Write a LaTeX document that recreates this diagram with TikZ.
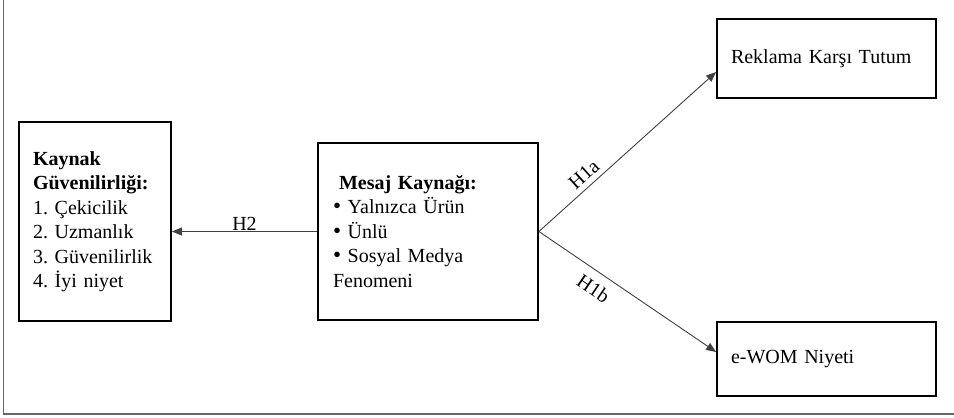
\documentclass[tikz,border=0pt]{standalone}
\usepackage{fontspec}
\setmainfont{Liberation Serif}
\usetikzlibrary{arrows.meta}
\newcommand{\bul}{{\fontsize{23}{24}\selectfont •} }
\begin{document}
\frenchspacing
\begin{tikzpicture}[x=1pt,y=-1pt,
  box/.style={draw=black,line width=1.8pt,rectangle,inner xsep=14pt,inner ysep=0pt,
    align=left,font=\fontsize{20}{24.5}\selectfont},
  conn/.style={draw=black!75,line width=0.9pt,-{Triangle[length=10pt,width=8pt]}},
  lbl/.style={font=\fontsize{20}{24}\selectfont,inner sep=2pt},
  frame/.style={draw=black!60,line width=1.5pt}]
\useasboundingbox (0,0) rectangle (954,418);
% outer frame
\coordinate (ftop) at (3.5,0);
\coordinate (fcorner) at (3.5,414);
\coordinate (fright) at (954,414);
\draw[frame] (ftop) -- (fcorner) -- (fright);
% boxes
\node[box,minimum width=152pt,minimum height=199pt,text width=124pt] (ks) at (95,221.5)
 {\textbf{Kaynak}\\\textbf{Güvenilirliği:}\\1. Çekicilik\\2. Uzmanlık\\3. Güvenilirlik\\4. İyi niyet};
\node[box,minimum width=220pt,minimum height=177pt,text width=190pt] (mk) at (428,231.5)
 {\hspace{6pt}\textbf{Mesaj Kaynağı:}\\\bul Yalnızca Ürün\\\bul Ünlü\\\bul Sosyal Medya\\Fenomeni};
\node[box,minimum width=219pt,minimum height=79pt,text width=191pt] (rk) at (826.5,58.5)
 {\raisebox{-4pt}{Reklama Karşı Tutum}};
\node[box,minimum width=219pt,minimum height=74pt,text width=191pt] (ew) at (826.5,359)
 {\raisebox{-3pt}{e-WOM Niyeti}};
% connectors
\draw[conn] (mk.west) -- (mk.west -| ks.east) node[lbl,midway,above,yshift=-1pt] {H2};
\draw[conn] (mk.east) -- ([yshift=-13.5pt]rk.west) node[lbl,sloped,above,pos=0.3,yshift=3pt] {H1a};
\draw[conn] (mk.east) -- ([yshift=7pt]ew.west) node[lbl,sloped,below,pos=0.36,yshift=-7pt] {H1b};
\end{tikzpicture}
\end{document}
